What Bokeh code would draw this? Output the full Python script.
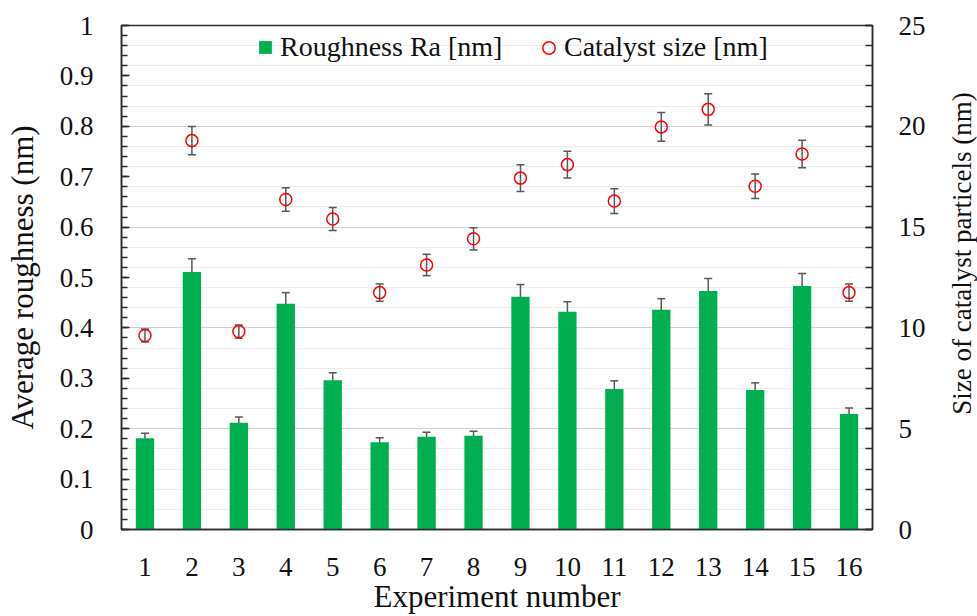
import math
from bokeh.plotting import figure
from bokeh.layouts import row
from bokeh.models import (Range1d, FactorRange, LinearAxis, SingleIntervalTicker,
                          CustomJSTickFormatter, Grid, Whisker, TeeHead, Label,
                          ColumnDataSource, Legend, LegendItem)
from bokeh.embed import file_html
from bokeh.resources import INLINE

# ---------------- data ----------------
experiments = [str(i) for i in range(1, 17)]
roughness = [0.181, 0.511, 0.212, 0.448, 0.296, 0.173, 0.184, 0.186,
             0.462, 0.432, 0.279, 0.436, 0.473, 0.277, 0.483, 0.229]
roughness_err = [0.010, 0.026, 0.011, 0.022, 0.015, 0.009, 0.009, 0.009,
                 0.024, 0.020, 0.016, 0.022, 0.025, 0.014, 0.025, 0.012]
catalyst_size = [9.62, 19.29, 9.82, 16.37, 15.40, 11.75, 13.12, 14.42,
                 17.43, 18.10, 16.29, 19.97, 20.84, 17.03, 18.63, 11.75]
catalyst_err = [0.32, 0.70, 0.33, 0.58, 0.57, 0.43, 0.53, 0.55,
                0.66, 0.66, 0.61, 0.71, 0.78, 0.61, 0.68, 0.43]

FONT = "Liberation Serif"
TEXT = "#111111"
AXIS = "#2b2b2b"
GREEN = "#00b050"
RED = "#ff0000"
ERR = "#595959"

src = ColumnDataSource(dict(
    x=experiments,
    ra=roughness,
    ra_lo=[v - e for v, e in zip(roughness, roughness_err)],
    ra_hi=[v + e for v, e in zip(roughness, roughness_err)],
    cs=catalyst_size,
    cs_lo=[v - e for v, e in zip(catalyst_size, catalyst_err)],
    cs_hi=[v + e for v, e in zip(catalyst_size, catalyst_err)],
))

p = figure(width=940, height=616, x_range=FactorRange(*experiments),
           y_range=Range1d(0, 1), output_backend="svg", toolbar_location=None,
           min_border_left=121, min_border_right=68, min_border_top=25,
           min_border_bottom=86)
p.extra_y_ranges = {"size": Range1d(0, 25)}
p.background_fill_color = "white"
p.border_fill_color = "white"
p.outline_line_color = AXIS
p.outline_line_width = 1.5

p.xgrid.visible = False
p.ygrid.visible = False
grid = Grid(dimension=1, ticker=SingleIntervalTicker(interval=5, num_minor_ticks=5),
            y_range_name="size", grid_line_color="#d2d2d2", grid_line_width=1.2,
            minor_grid_line_color="#ececec", minor_grid_line_width=1.2)
p.add_layout(grid)

# bars
bars = p.vbar(x="x", top="ra", width=0.39, source=src, fill_color=GREEN,
              line_color=None)
p.add_layout(Whisker(base="x", upper="ra_hi", lower="ra_lo", source=src,
                     line_color=ERR, line_width=1.5,
                     upper_head=TeeHead(size=8, line_color=ERR, line_width=1.5),
                     lower_head=TeeHead(size=8, line_color=ERR, line_width=1.5)))

# circles
circ = p.scatter(x="x", y="cs", source=src, y_range_name="size", marker="circle",
                 size=12, fill_color=None, line_color=RED, line_width=1.5)
p.add_layout(Whisker(base="x", upper="cs_hi", lower="cs_lo", source=src,
                     y_range_name="size", line_color=ERR, line_width=1.5,
                     upper_head=TeeHead(size=8, line_color=ERR, line_width=1.5),
                     lower_head=TeeHead(size=8, line_color=ERR, line_width=1.5)))

# legends (one per item so each glyph gets its own swatch size)
common = dict(orientation="horizontal", padding=0, margin=0,
              border_line_alpha=0, background_fill_alpha=0,
              label_text_font=FONT, label_text_font_size="28px",
              label_text_color=TEXT)
legend_a = Legend(items=[LegendItem(label="Roughness Ra [nm]", renderers=[bars])],
                  location=(136, 466), glyph_width=16, glyph_height=16,
                  label_standoff=7, **common)
legend_b = Legend(items=[LegendItem(label="Catalyst size [nm]", renderers=[circ])],
                  location=(412, 466), glyph_width=31, glyph_height=31,
                  label_standoff=-2, **common)
p.add_layout(legend_a)
p.add_layout(legend_b)

# x axis
xax = p.xaxis[0]
xax.axis_line_color = AXIS
xax.axis_line_width = 1.5
xax.major_tick_line_color = None
xax.minor_tick_line_color = None
xax.major_label_standoff = 22
xax.major_label_text_font = FONT
xax.major_label_text_font_size = "27px"
xax.major_label_text_color = TEXT
xax.axis_label = "Experiment number"
xax.axis_label_standoff = 0
xax.axis_label_text_font = FONT
xax.axis_label_text_font_size = "31px"
xax.axis_label_text_font_style = "normal"
xax.axis_label_text_color = TEXT

# left axis
yax = p.yaxis[0]
yax.ticker = SingleIntervalTicker(interval=0.1, num_minor_ticks=5)
yax.formatter = CustomJSTickFormatter(code="return String(Math.round(tick*10)/10);")
yax.axis_line_color = AXIS
yax.axis_line_width = 1.5
yax.major_tick_in = 8
yax.major_tick_out = 0
yax.minor_tick_in = 6
yax.minor_tick_out = 0
yax.major_tick_line_color = AXIS
yax.minor_tick_line_color = AXIS
yax.major_tick_line_width = 1.5
yax.minor_tick_line_width = 1.5
yax.major_label_standoff = 28
yax.major_label_text_font = FONT
yax.major_label_text_font_size = "27px"
yax.major_label_text_color = TEXT
yax.axis_label = "Average roughness (nm)"
yax.axis_label_standoff = 17
yax.axis_label_text_font = FONT
yax.axis_label_text_font_size = "31px"
yax.axis_label_text_font_style = "normal"
yax.axis_label_text_color = TEXT

# right axis
rax = LinearAxis(y_range_name="size",
                 ticker=SingleIntervalTicker(interval=5, num_minor_ticks=5))
rax.axis_line_color = AXIS
rax.axis_line_width = 1.5
rax.major_tick_in = 7
rax.major_tick_out = 0
rax.minor_tick_in = 7
rax.minor_tick_out = 0
rax.major_tick_line_color = AXIS
rax.minor_tick_line_color = AXIS
rax.major_tick_line_width = 1.5
rax.minor_tick_line_width = 1.5
rax.major_label_standoff = 26
rax.major_label_text_font = FONT
rax.major_label_text_font_size = "27px"
rax.major_label_text_color = TEXT
p.add_layout(rax, "right")

# narrow companion figure holding the right-axis title (reads bottom-to-top)
side = figure(width=37, height=616, x_range=Range1d(0, 1), y_range=Range1d(0, 1),
              x_axis_type=None, y_axis_type=None, output_backend="svg",
              toolbar_location=None, min_border=0)
side.outline_line_color = None
side.background_fill_color = "white"
side.border_fill_color = "white"
side.xgrid.visible = False
side.ygrid.visible = False
side.add_layout(Label(x=21, y=276, x_units="screen", y_units="screen",
                      text="Size of catalyst particels (nm)", angle=math.pi / 2,
                      text_align="center", text_baseline="middle",
                      text_font=FONT, text_font_size="27px", text_color=TEXT))

layout = row(p, side, spacing=0)
open("out.html", "w").write(file_html(layout, INLINE))
